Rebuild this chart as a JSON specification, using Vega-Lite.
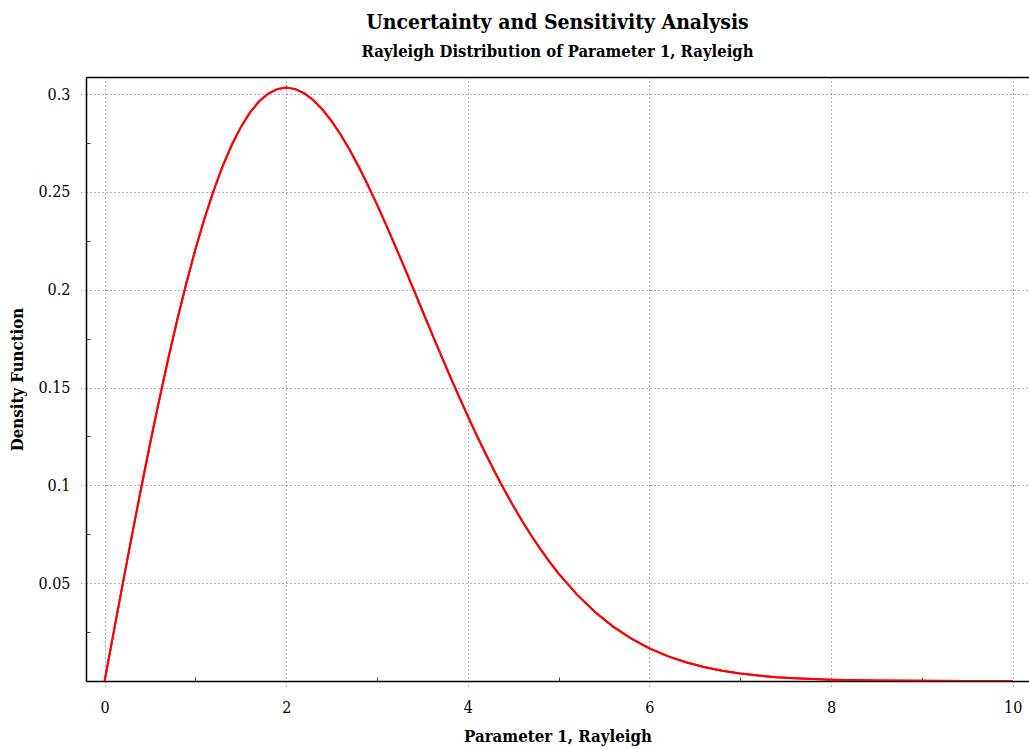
{
  "$schema": "https://vega.github.io/schema/vega-lite/v6.json",
  "width": 943,
  "height": 604,
  "autosize": "none",
  "padding": {"left": 86, "top": 77, "right": 0, "bottom": 68},
  "background": "white",
  "title": {
    "text": "Uncertainty and Sensitivity Analysis",
    "subtitle": "Rayleigh Distribution of Parameter 1, Rayleigh",
    "anchor": "middle",
    "font": "DejaVu Serif Condensed",
    "fontSize": 21,
    "fontWeight": "bold",
    "subtitleFont": "DejaVu Serif Condensed",
    "subtitleFontSize": 16.5,
    "subtitleFontWeight": "bold",
    "subtitleColor": "black",
    "subtitlePadding": 11,
    "color": "black",
    "offset": 17
  },
  "config": {
    "view": {"stroke": null},
    "axis": {
      "labelFont": "DejaVu Serif Condensed",
      "labelFontSize": 16,
      "labelColor": "black",
      "titleFont": "DejaVu Serif Condensed",
      "titleFontSize": 16.7,
      "titleFontWeight": "bold",
      "titleColor": "black",
      "domainColor": "black",
      "domainWidth": 1.5,
      "gridColor": "#666666",
      "gridDash": [1, 3],
      "gridWidth": 1
    }
  },
  "data": {
    "values": [
      {"x": 0, "y": 0}, {"x": 0.1, "y": 0.02497}, {"x": 0.2, "y": 0.04975}, {"x": 0.3, "y": 0.07416},
      {"x": 0.4, "y": 0.09802}, {"x": 0.5, "y": 0.12115}, {"x": 0.6, "y": 0.1434}, {"x": 0.7, "y": 0.1646},
      {"x": 0.8, "y": 0.18462}, {"x": 0.9, "y": 0.20333}, {"x": 1.0, "y": 0.22062}, {"x": 1.1, "y": 0.2364},
      {"x": 1.2, "y": 0.25058}, {"x": 1.3, "y": 0.2631}, {"x": 1.4, "y": 0.27395}, {"x": 1.5, "y": 0.28307},
      {"x": 1.6, "y": 0.29046}, {"x": 1.7, "y": 0.29614}, {"x": 1.8, "y": 0.30014}, {"x": 1.9, "y": 0.3025},
      {"x": 2.0, "y": 0.30327}, {"x": 2.1, "y": 0.30252}, {"x": 2.2, "y": 0.30034}, {"x": 2.3, "y": 0.29683},
      {"x": 2.4, "y": 0.29205}, {"x": 2.5, "y": 0.28615}, {"x": 2.6, "y": 0.27921}, {"x": 2.7, "y": 0.27136},
      {"x": 2.8, "y": 0.26272}, {"x": 2.9, "y": 0.25339}, {"x": 3.0, "y": 0.24349}, {"x": 3.1, "y": 0.23313},
      {"x": 3.2, "y": 0.22243}, {"x": 3.3, "y": 0.21148}, {"x": 3.4, "y": 0.20038}, {"x": 3.5, "y": 0.18923},
      {"x": 3.6, "y": 0.17811}, {"x": 3.7, "y": 0.1671}, {"x": 3.8, "y": 0.15625}, {"x": 3.9, "y": 0.14565},
      {"x": 4.0, "y": 0.13534}, {"x": 4.1, "y": 0.12536}, {"x": 4.2, "y": 0.11576}, {"x": 4.3, "y": 0.10657},
      {"x": 4.4, "y": 0.09781}, {"x": 4.5, "y": 0.08951}, {"x": 4.6, "y": 0.08166}, {"x": 4.7, "y": 0.07427},
      {"x": 4.8, "y": 0.06736}, {"x": 4.9, "y": 0.06091}, {"x": 5.0, "y": 0.05492}, {"x": 5.2, "y": 0.04426},
      {"x": 5.4, "y": 0.03526}, {"x": 5.6, "y": 0.02778}, {"x": 5.8, "y": 0.02164}, {"x": 6.0, "y": 0.01666},
      {"x": 6.2, "y": 0.01269}, {"x": 6.4, "y": 0.00956}, {"x": 6.6, "y": 0.00712}, {"x": 6.8, "y": 0.00525},
      {"x": 7.0, "y": 0.00383}, {"x": 7.2, "y": 0.00276}, {"x": 7.4, "y": 0.00197}, {"x": 7.6, "y": 0.00139},
      {"x": 7.8, "y": 0.00097}, {"x": 8.0, "y": 0.00067}, {"x": 8.5, "y": 0.000255}, {"x": 9.0, "y": 0.00009},
      {"x": 9.5, "y": 0.00003}, {"x": 10.0, "y": 0.00001}
    ]
  },
  "layer": [
    {
      "mark": {"type": "line", "color": "#ff0000", "strokeWidth": 2, "clip": true},
      "encoding": {
        "x": {
          "field": "x",
          "type": "quantitative",
          "scale": {"domain": [-0.205, 10.18], "nice": false, "zero": false},
          "axis": {
            "title": "Parameter 1, Rayleigh",
            "values": [0, 1, 2, 3, 4, 5, 6, 7, 8, 9, 10],
            "labelExpr": "datum.value % 2 === 0 ? datum.label : ''",
            "grid": true,
            "gridOpacity": {"condition": {"test": "datum.value % 2 === 1", "value": 0}, "value": 1},
            "tickSize": {"condition": {"test": "datum.value % 2 === 1", "value": -4}, "value": 6},
            "tickColor": {"condition": {"test": "datum.value % 2 === 1", "value": "#444444"}, "value": "#666666"},
            "tickDash": {"condition": {"test": "datum.value % 2 === 1", "value": []}, "value": [1, 3]},
            "labelPadding": 12,
            "titlePadding": 13,
            "labelFlush": false
          }
        },
        "y": {
          "field": "y",
          "type": "quantitative",
          "scale": {"domain": [0, 0.3087], "nice": false},
          "axis": {
            "title": "Density Function",
            "values": [0.025, 0.05, 0.075, 0.1, 0.125, 0.15, 0.175, 0.2, 0.225, 0.25, 0.275, 0.3],
            "labelExpr": "round(datum.value * 1000) % 50 === 0 ? format(datum.value, '~g') : ''",
            "grid": true,
            "gridOpacity": {"condition": {"test": "round(datum.value * 1000) % 50 !== 0", "value": 0}, "value": 1},
            "tickSize": {"condition": {"test": "round(datum.value * 1000) % 50 !== 0", "value": -4}, "value": 6},
            "tickColor": {"condition": {"test": "round(datum.value * 1000) % 50 !== 0", "value": "#444444"}, "value": "#666666"},
            "tickDash": {"condition": {"test": "round(datum.value * 1000) % 50 !== 0", "value": []}, "value": [1, 3]},
            "labelPadding": 10,
            "titlePadding": 11,
            "labelFlush": false
          }
        }
      }
    },
    {
      "mark": {"type": "line", "color": "#ff0000", "strokeWidth": 2, "clip": true},
      "encoding": {
        "x": {
          "field": "x",
          "type": "quantitative",
          "scale": {"domain": [-0.205, 10.18], "nice": false, "zero": false},
          "axis": {
            "orient": "top",
            "title": null,
            "labels": false,
            "ticks": false,
            "grid": false,
            "domain": true
          }
        },
        "y": {
          "field": "y",
          "type": "quantitative",
          "scale": {"domain": [0, 0.3087], "nice": false}
        }
      }
    }
  ],
  "resolve": {"scale": {"x": "independent"}, "axis": {"x": "independent"}}
}
